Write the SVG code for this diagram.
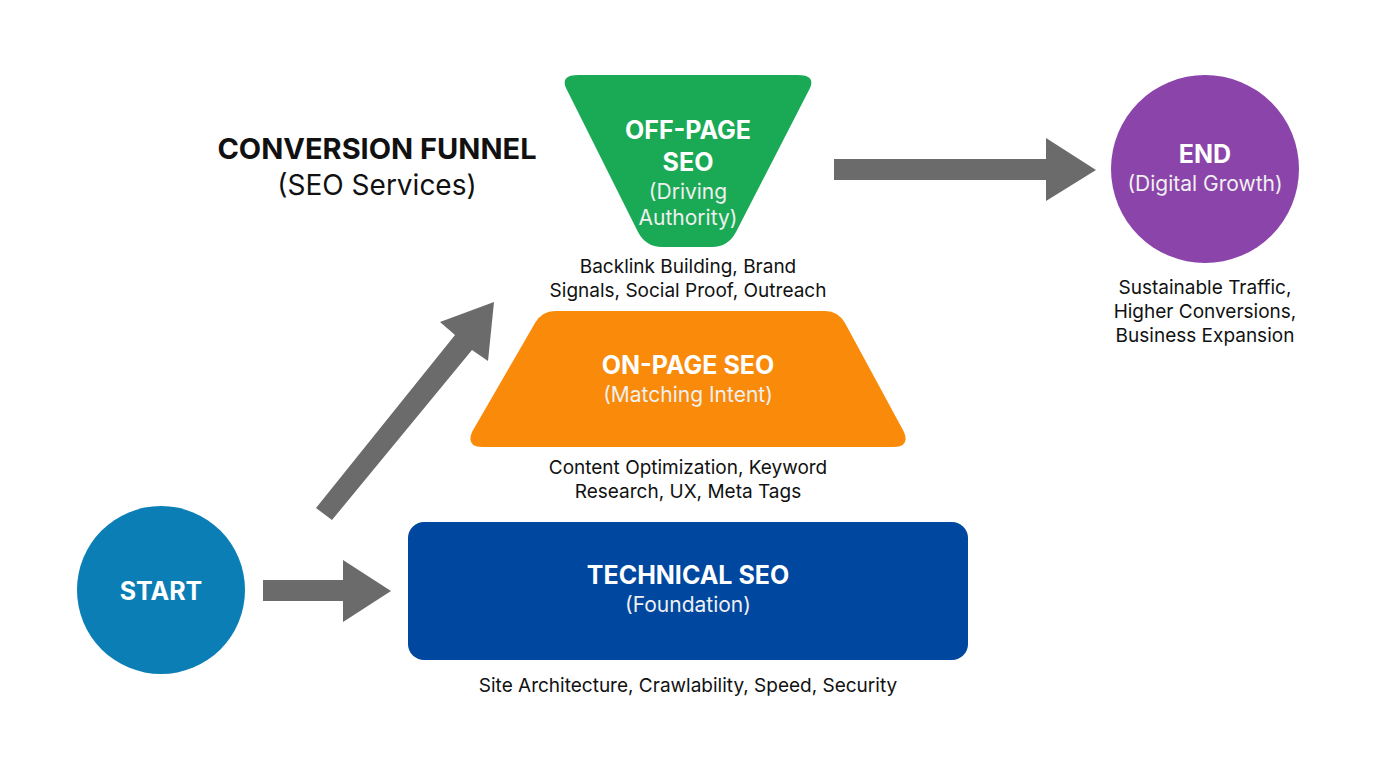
<svg xmlns="http://www.w3.org/2000/svg" width="1376" height="768" viewBox="0 0 1376 768">
<style>
text{font-family:Inter,"Liberation Sans",sans-serif;text-anchor:middle}
.h{font-weight:700;fill:#fff;font-size:25px}
.s{fill:#f0f0f0;font-size:21px}
.d{fill:#111;font-size:19px}
.arrow{fill:#6b6b6b}
</style>
<rect width="1376" height="768" fill="#fff"/>
<g id="title">
<text x="377" y="159" font-size="29" font-weight="700" fill="#111">CONVERSION FUNNEL</text>
<text x="377" y="195" font-size="28" fill="#111">(SEO Services)</text>
</g>
<g id="connectors">
<polygon class="arrow" points="316,508 332,520 472,350 488,361 494,302 440,322 455,335"/>
<polygon class="arrow" points="263,580 343,580 343,560 391,591 343,622 343,601 263,601"/>
<polygon class="arrow" points="834,159 1046,159 1046,138 1096,170 1046,201 1046,180 834,180"/>
</g>
<g id="start">
<circle cx="161" cy="590" r="84" fill="#0a7eb5"/>
<text class="h" x="161" y="600" font-size="29">START</text>
</g>
<g id="offpage">
<path d="M578,75 L798,75 Q818,75 808,92 L736,232 Q728,247 712,247 L662,247 Q646,247 638,232 L568,92 Q558,75 578,75 Z" fill="#1aaa55"/>
<text class="h" x="688" y="139">OFF-PAGE</text>
<text class="h" x="688" y="171">SEO</text>
<text class="s" x="688" y="199">(Driving</text>
<text class="s" x="688" y="225">Authority)</text>
<text class="d" x="688" y="273">Backlink Building, Brand</text>
<text class="d" x="688" y="297">Signals, Social Proof, Outreach</text>
</g>
<g id="onpage">
<path d="M555,311 L825,311 Q838,311 845,323 L904,432 Q910,447 894,447 L482,447 Q466,447 472,432 L535,323 Q542,311 555,311 Z" fill="#f98a0a"/>
<text class="h" x="688" y="374">ON-PAGE SEO</text>
<text class="s" x="688" y="402">(Matching Intent)</text>
<text class="d" x="688" y="474">Content Optimization, Keyword</text>
<text class="d" x="688" y="498">Research, UX, Meta Tags</text>
</g>
<g id="technical">
<rect x="408" y="522" width="560" height="138" rx="16" fill="#0047a0"/>
<text class="h" x="688" y="584">TECHNICAL SEO</text>
<text class="s" x="688" y="612">(Foundation)</text>
<text class="d" x="688" y="692">Site Architecture, Crawlability, Speed, Security</text>
</g>
<g id="end">
<circle cx="1205" cy="169" r="94" fill="#8b44aa"/>
<text class="h" x="1205" y="163">END</text>
<text class="s" x="1205" y="191">(Digital Growth)</text>
<text class="d" x="1205" y="294">Sustainable Traffic,</text>
<text class="d" x="1205" y="318">Higher Conversions,</text>
<text class="d" x="1205" y="342">Business Expansion</text>
</g>
</svg>
